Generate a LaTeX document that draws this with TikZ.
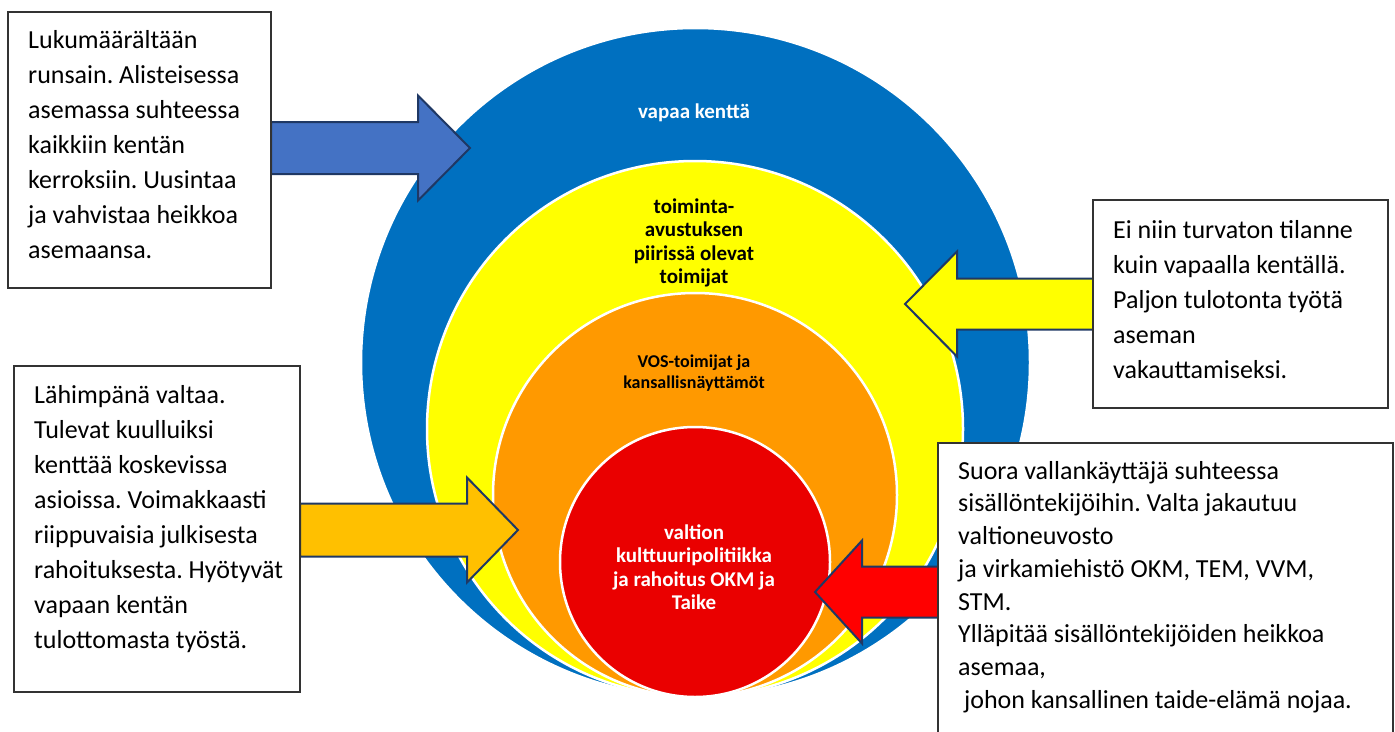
\documentclass[tikz,border=0pt]{standalone}
\usepackage{fontspec}
\setmainfont{Carlito}
\frenchspacing
\definecolor{vapaasin}{RGB}{0,112,192}
\definecolor{avustuskelta}{RGB}{255,255,0}
\definecolor{vosoranssi}{RGB}{255,153,0}
\definecolor{valtionpuna}{RGB}{234,0,0}
\definecolor{nuolisin}{RGB}{68,114,196}
\definecolor{nuolioranssi}{RGB}{255,192,0}
\definecolor{nuolipuna}{RGB}{255,0,0}
\definecolor{nuolireuna}{RGB}{31,56,100}

\begin{document}
\begin{tikzpicture}[x=1pt,y=-1pt,
	rengas/.style={draw=white,line width=2.5pt},
	renkaanteksti/.style={align=center,inner sep=0pt,font=\bfseries\fontsize{21}{23.5}\selectfont},
	laatikko/.style={draw=black!80,line width=1.5pt,fill=white,inner sep=0pt,outer sep=0pt,anchor=north west},
	laatikkoteksti/.style={anchor=north west,align=left,inner sep=0pt,font=\fontsize{26}{35}\selectfont},
	nuoli/.style={draw=nuolireuna,line width=2pt,line join=miter}]
	\useasboundingbox (0,0) rectangle (1395,731);
	% kentan kerrokset
	\filldraw[rengas,fill=vapaasin] (695.5,362.5) circle (334.5);
	\filldraw[rengas,fill=avustuskelta] (695,429) circle (268);
	\filldraw[rengas,fill=vosoranssi] (695,495) circle (202);
	\filldraw[rengas,fill=valtionpuna] (695,562) circle (135);
	\node[renkaanteksti,text=white] (vapaa) at (694,113) {vapaa kenttä};
	\node[renkaanteksti] (avustus) at (694,243) {toiminta-\\avustuksen\\piirissä olevat\\toimijat};
	\node[renkaanteksti,font=\bfseries\fontsize{18}{20.5}\selectfont] (vos) at (694,373) {VOS-toimijat ja\\kansallisnäyttämöt};
	\node[renkaanteksti,text=white] (valtio) at (694,567) {valtion\\kulttuuripolitiikka\\ja rahoitus OKM ja\\Taike};
	% nuolet: alku, karjen tyvi, karki, korkeus, puolirunko, puolikarki
	\foreach \xa/\xb/\xc/\yc/\hb/\hh/\col in {271/418/470/148/26/52.5/nuolisin,
		1093/957/905/304/25.5/52.5/avustuskelta,
		300/467/518/530/26.5/52.5/nuolioranssi,
		938/862/815/592/25.5/51.5/nuolipuna}
	\filldraw[nuoli,fill=\col] (\xa,\yc-\hb) -- (\xb,\yc-\hb) -- (\xb,\yc-\hh) -- (\xc,\yc)
		-- (\xb,\yc+\hh) -- (\xb,\yc+\hb) -- (\xa,\yc+\hb) -- cycle;
	% tekstilaatikot
	\node[laatikko,minimum width=263,minimum height=276] (lukuboksi) at (8,12) {};
	\node[laatikkoteksti] (lukuteksti) at (28,30) {Lukumäärältään\\runsain. Alisteisessa\\asemassa suhteessa\\kaikkiin kentän\\kerroksiin. Uusintaa\\ja vahvistaa heikkoa\\asemaansa.};
	\node[laatikko,minimum width=295,minimum height=208] (turvaboksi) at (1093,200) {};
	\node[laatikkoteksti] (turvateksti) at (1113,220) {Ei niin turvaton tilanne\\kuin vapaalla kentällä.\\Paljon tulotonta työtä\\aseman\\vakauttamiseksi.};
	\node[laatikko,minimum width=286,minimum height=326] (valtaboksi) at (14,366) {};
	\node[laatikkoteksti] (valtateksti) at (34,385) {Lähimpänä valtaa.\\Tulevat kuulluiksi\\kenttää koskevissa\\asioissa. Voimakkaasti\\riippuvaisia julkisesta\\rahoituksesta. Hyötyvät\\vapaan kentän\\tulottomasta työstä.};
	\node[laatikko,minimum width=455,minimum height=300] (kayttajaboksi) at (938,443) {};
	\node[laatikkoteksti,font=\fontsize{26}{32.7}\selectfont] (kayttajateksti) at (958,461) {Suora vallankäyttäjä suhteessa\\sisällöntekijöihin. Valta jakautuu\\valtioneuvosto\\ja virkamiehistö OKM, TEM, VVM,\\STM.\\Ylläpitää sisällöntekijöiden heikkoa\\asemaa,\\\ johon kansallinen taide-elämä nojaa.};
\end{tikzpicture}
\end{document}
